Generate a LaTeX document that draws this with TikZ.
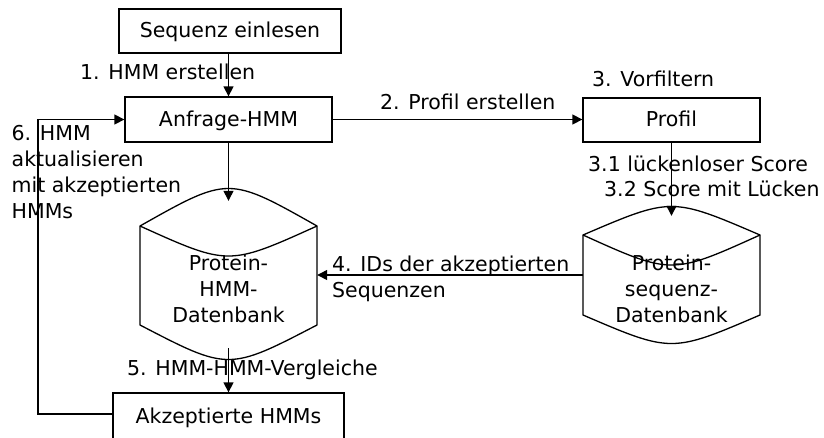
\documentclass[tikz,border=0pt]{standalone}
\usepackage{fontspec}
\setmainfont{DejaVu Sans}
\usetikzlibrary{arrows.meta,calc}
\begin{document}
\begin{tikzpicture}[x=1pt,y=-1pt,
  every node/.style={font=\fontsize{20.5pt}{26pt}\selectfont, inner sep=0pt},
  stroke/.style={line width=1.3pt, line join=miter},
  procbox/.style={stroke, draw, fill=white, text height=15pt, text depth=1.6pt},
  dbframe/.style={draw=none, rectangle},
  dbtext/.style={align=center},
  flow/.style={stroke, -{Triangle[length=10pt,width=10pt]}},
  lbl/.style={anchor=base west},
  mlbl/.style={anchor=north west, align=left}]
  \useasboundingbox (0,0) rectangle (824,437);
  \clip (0,0) rectangle (824,437);
  \fill[white] (0,0) rectangle (824,437);

  % process boxes
  \node[procbox, minimum width=222pt, minimum height=44pt] (seq)  at (230,31)     {Sequenz einlesen};
  \node[procbox, minimum width=207pt, minimum height=45pt] (anf)  at (228.5,119.5) {Anfrage-HMM};
  \node[procbox, minimum width=177pt, minimum height=44pt] (prof) at (671.5,120)  {Profil};
  \node[procbox, minimum width=231pt, minimum height=52pt, text depth=6.6pt] (akz) at (228.5,419) {Akzeptierte HMMs};

  % databases: frame nodes for the connectors, outlines drawn below
  \node[dbframe, minimum width=177pt, minimum height=147pt] (hmmdb) at (228.5,274.5) {};
  \node[dbframe, minimum width=177pt, minimum height=118pt] (seqdb) at (671.5,275) {};

  % cylinder outline of the HMM database
  \draw[stroke, fill=white] (140,226) .. controls (228.5,176) .. (317,226) -- (317,325)
        .. controls (228.5,371) .. (140,325) -- cycle;
  \draw[stroke] (140,226) .. controls (228.5,266) .. (317,226);
  % cylinder outline of the sequence database
  \draw[stroke, fill=white] (583,235) .. controls (671.5,197) .. (760,235) -- (760,315)
        .. controls (671.5,353) .. (583,315) -- cycle;
  \draw[stroke] (583,235) .. controls (671.5,275) .. (760,235);

  \node[dbtext] (hmmdbt) at (228.5,289) {Protein-\\HMM-\\Datenbank};
  \node[dbtext] (seqdbt) at (671.5,289) {Protein-\\sequenz-\\Datenbank};

  % connectors
  \coordinate (back) at (38,0);
  \draw[flow] (anf.north |- seq.south) -- (anf.north);
  \draw[flow] (anf.east) -- (anf.east -| prof.west);
  \draw[flow] (anf.south) -- (hmmdb.north);
  \draw[flow] (prof.south) -- (seqdb.north);
  \draw[flow] (seqdb.west) -- (seqdb.west -| hmmdb.east);
  \draw[flow] (hmmdb.south) -- (akz.north);
  \draw[flow] (akz.west |- 0,414) -- (back |- 0,414) |- (anf.west);

  % step labels
  \node[lbl] (l1)  at (80,79)      {1. HMM erstellen};
  \node[lbl] (l2)  at (380,109)    {2. Profil erstellen};
  \node[lbl] (l3)  at (592,86.5)   {3. Vorfiltern};
  \node[lbl] (l31) at (588,171)    {3.1 lückenloser Score};
  \node[lbl] (l32) at (604,196.7)  {3.2 Score mit Lücken};
  \node[mlbl] (l4) at (332,255.3)  {4. IDs der akzeptierten\\Sequenzen};
  \node[lbl] (l5)  at (127,375.7)  {5. HMM-HMM-Vergleiche};
  \node[mlbl] (l6) at (11.5,125.4) {6. HMM\\aktualisieren\\mit akzeptierten\\HMMs};
\end{tikzpicture}
\end{document}
